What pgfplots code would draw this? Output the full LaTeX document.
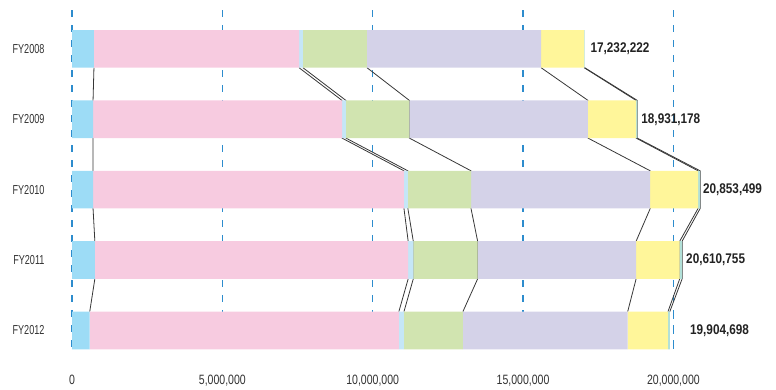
\documentclass[border=0pt]{standalone}
\usepackage{pgfplots}
\usepackage{pgfplotstable}
\pgfplotsset{compat=1.18}
\usepackage{fontspec}
\setmainfont{Liberation Sans}[FakeStretch=0.7]
\newfontfamily\numfont{Liberation Sans}[FakeStretch=0.78]
\newfontfamily\totfont{Liberation Sans}[FakeStretch=0.84]
\definecolor{cBlue}{RGB}{157,220,246}
\definecolor{cPink}{RGB}{247,203,224}
\definecolor{cLb}{RGB}{197,230,247}
\definecolor{cGreen}{RGB}{209,228,176}
\definecolor{cLav}{RGB}{212,210,232}
\definecolor{cYellow}{RGB}{255,246,154}
\definecolor{cTeal}{RGB}{178,224,216}
\definecolor{cGrid}{RGB}{45,140,205}
\definecolor{cText}{RGB}{51,51,51}
\definecolor{cTot}{RGB}{34,34,34}
\definecolor{cLine}{RGB}{55,55,55}

% segment widths per fiscal year (0 = FY2008 ... 4 = FY2012)
\pgfplotstableread{
y blue pink lb green lav yellow teal
0 730000 6820000 130000 2130000 5790000 1430000 20000
1 700000 8280000 130000 2110000 5940000 1600000 40000
2 700000 10340000 130000 2100000 5960000 1590000 70000
3 760000 10420000 170000 2140000 5270000 1450000 80000
4 590000 10280000 170000 1960000 5480000 1340000 60000
}\segs

\pgfplotsset{base/.style={
  scale only axis, width=691.6pt, height=345pt,
  xmin=0, xmax=23000000, ymin=-0.552, ymax=4.349, y dir=reverse,
  scaled x ticks=false, clip=false,
}}
\tikzset{tot/.style={anchor=west, inner sep=0pt, text=cTot, font=\totfont\bfseries\fontsize{14}{16}\selectfont},
  gridov/.style={cGrid, line width=1.2pt, dash pattern=on 7pt off 8pt}}

\begin{document}
\begin{tikzpicture}
% background axis: grid, ticks, connector lines
\begin{axis}[base,
  axis line style={draw=none}, major tick length=0pt,
  xtick={0,5000000,10000000,15000000,20000000},
  xticklabels={0,{5,000,000},{10,000,000},{15,000,000},{20,000,000}},
  ytick={0,1,2,3,4},
  yticklabels={FY2008,FY2009,FY2010,FY2011,FY2012},
  xmajorgrids,
  major grid style={cGrid, line width=1.2pt, dash pattern=on 7pt off 8pt},
  xticklabel style={font=\numfont\fontsize{13.5}{15}\selectfont, text=cText, yshift=-17pt},
  yticklabel style={font=\fontsize{13}{15}\selectfont, text=cText, xshift=-24pt},
]
\addplot[cLine, line width=0.8pt, mark=none] coordinates {(730000,0.2675)(700000,0.7325)(700000,1.2675)(700000,1.7325)(700000,2.2675)(760000,2.7325)(760000,3.2675)(590000,3.7325)};
\addplot[cLine, line width=0.8pt, mark=none] coordinates {(7550000,0.2675)(8980000,0.7325)(8980000,1.2675)(11040000,1.7325)(11040000,2.2675)(11180000,2.7325)(11180000,3.2675)(10870000,3.7325)};
\addplot[cLine, line width=0.8pt, mark=none] coordinates {(7680000,0.2675)(9110000,0.7325)(9110000,1.2675)(11170000,1.7325)(11170000,2.2675)(11350000,2.7325)(11350000,3.2675)(11040000,3.7325)};
\addplot[cLine, line width=0.8pt, mark=none] coordinates {(9810000,0.2675)(11220000,0.7325)(11220000,1.2675)(13270000,1.7325)(13270000,2.2675)(13490000,2.7325)(13490000,3.2675)(13000000,3.7325)};
\addplot[cLine, line width=0.8pt, mark=none] coordinates {(15600000,0.2675)(17160000,0.7325)(17160000,1.2675)(19230000,1.7325)(19230000,2.2675)(18760000,2.7325)(18760000,3.2675)(18480000,3.7325)};
\addplot[cLine, line width=0.8pt, mark=none] coordinates {(17030000,0.2675)(18760000,0.7325)(18760000,1.2675)(20820000,1.7325)(20820000,2.2675)(20210000,2.7325)(20210000,3.2675)(19820000,3.7325)};
\addplot[cLine, line width=0.8pt, mark=none] coordinates {(17050000,0.2675)(18800000,0.7325)(18800000,1.2675)(20890000,1.7325)(20890000,2.2675)(20290000,2.7325)(20290000,3.2675)(19880000,3.7325)};
\end{axis}
% foreground axis: stacked bars
\begin{axis}[base, hide axis, xbar stacked, bar width=0.535]
\addplot[fill=cBlue, draw=none] table[x=blue, y=y] {\segs};
\addplot[fill=cPink, draw=none] table[x=pink, y=y] {\segs};
\addplot[fill=cLb, draw=none] table[x=lb, y=y] {\segs};
\addplot[fill=cGreen, draw=none] table[x=green, y=y] {\segs};
\addplot[fill=cLav, draw=none] table[x=lav, y=y] {\segs};
\addplot[fill=cYellow, draw=none] table[x=yellow, y=y] {\segs};
\addplot[fill=cTeal, draw=none] table[x=teal, y=y] {\segs};
% grid lines show through the FY2012 bar in the original
\draw[gridov] (axis cs:5000000,3.7325) -- (axis cs:5000000,4.2675);
\draw[gridov] (axis cs:10000000,3.7325) -- (axis cs:10000000,4.2675);
\draw[gridov] (axis cs:15000000,3.7325) -- (axis cs:15000000,4.2675);
\draw[gridov] (axis cs:20000000,3.7325) -- (axis cs:20000000,4.2675);
\node[tot] at (axis cs:17240000,0) {17,232,222};
\node[tot] at (axis cs:18930000,1) {18,931,178};
\node[tot] at (axis cs:20980000,2) {20,853,499};
\node[tot] at (axis cs:20420000,3) {20,610,755};
\node[tot] at (axis cs:20550000,4) {19,904,698};
\end{axis}
\pgfresetboundingbox
\useasboundingbox (-72pt,-34pt) rectangle (704pt,355pt);
\end{tikzpicture}
\end{document}
